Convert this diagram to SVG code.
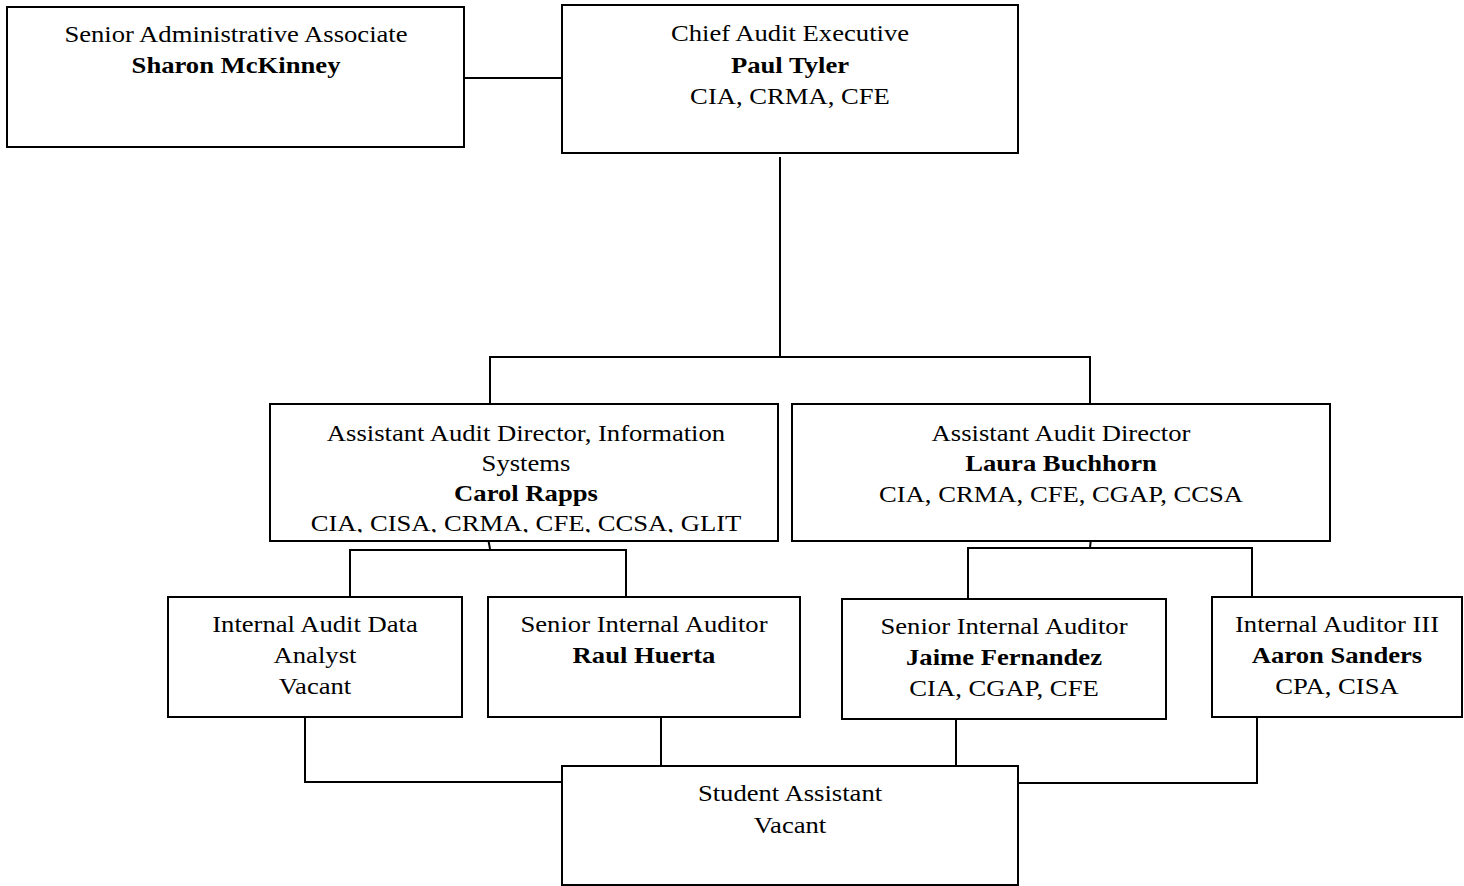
<svg xmlns="http://www.w3.org/2000/svg" width="1464" height="886" viewBox="0 0 1464 886">
<style>
.box{fill:#fff;stroke:#000;stroke-width:2}
.ln{fill:none;stroke:#000;stroke-width:2}
text{font-family:"Liberation Serif","Times New Roman",serif;font-size:24px;fill:#000;text-anchor:middle}
.b{font-weight:bold}
</style>
<defs>
<clipPath id="carolClip"><rect x="270" y="404" width="508" height="128.5"/></clipPath>
</defs>
<rect width="1464" height="886" fill="#fff"/>
<g id="connectors">
<polyline class="ln" points="464,78 562,78"/>
<polyline class="ln" points="780,157 780,357"/>
<polyline class="ln" points="490,404 490,357 1090,357 1090,404"/>
<polyline class="ln" points="488,538 490,549"/>
<polyline class="ln" points="350,597 350,550 626,550 626,597"/>
<polyline class="ln" points="1091,538 1090,548"/>
<polyline class="ln" points="968,599 968,548 1252,548 1252,597"/>
<polyline class="ln" points="305,717 305,782 562,782"/>
<polyline class="ln" points="661,717 661,766"/>
<polyline class="ln" points="956,719 956,766"/>
<polyline class="ln" points="1257,717 1257,783 1018,783"/>
</g>
<g id="senior-admin">
<rect class="box" x="7" y="7" width="457" height="140"/>
<g transform="translate(236 0) scale(1.11 1)">
<text x="0" y="42">Senior Administrative Associate</text>
<text x="0" y="73" class="b">Sharon McKinney</text>
</g>
</g>
<g id="chief">
<rect class="box" x="562" y="5" width="456" height="148"/>
<g transform="translate(790 0) scale(1.11 1)">
<text x="0" y="41.5">Chief Audit Executive</text>
<text x="0" y="73" class="b">Paul Tyler</text>
<text x="0" y="104.5">CIA, CRMA, CFE</text>
</g>
</g>
<g id="carol">
<rect class="box" x="270" y="404" width="508" height="137"/>
<g clip-path="url(#carolClip)">
<g transform="translate(526 0) scale(1.11 1)">
<text x="0" y="441">Assistant Audit Director, Information</text>
<text x="0" y="471">Systems</text>
<text x="0" y="501" class="b">Carol Rapps</text>
<text x="0" y="531">CIA, CISA, CRMA, CFE, CCSA, GLIT</text>
</g>
</g>
</g>
<g id="laura">
<rect class="box" x="792" y="404" width="538" height="137"/>
<g transform="translate(1061 0) scale(1.11 1)">
<text x="0" y="441">Assistant Audit Director</text>
<text x="0" y="471.5" class="b">Laura Buchhorn</text>
<text x="0" y="502">CIA, CRMA, CFE, CGAP, CCSA</text>
</g>
</g>
<g id="data-analyst">
<rect class="box" x="168" y="597" width="294" height="120"/>
<g transform="translate(315 0) scale(1.11 1)">
<text x="0" y="632.5">Internal Audit Data</text>
<text x="0" y="663">Analyst</text>
<text x="0" y="694">Vacant</text>
</g>
</g>
<g id="raul">
<rect class="box" x="488" y="597" width="312" height="120"/>
<g transform="translate(644 0) scale(1.11 1)">
<text x="0" y="632.5">Senior Internal Auditor</text>
<text x="0" y="663" class="b">Raul Huerta</text>
</g>
</g>
<g id="jaime">
<rect class="box" x="842" y="599" width="324" height="120"/>
<g transform="translate(1004 0) scale(1.11 1)">
<text x="0" y="634.5">Senior Internal Auditor</text>
<text x="0" y="665" class="b">Jaime Fernandez</text>
<text x="0" y="696">CIA, CGAP, CFE</text>
</g>
</g>
<g id="aaron">
<rect class="box" x="1212" y="597" width="250" height="120"/>
<g transform="translate(1337 0) scale(1.11 1)">
<text x="0" y="632.5">Internal Auditor III</text>
<text x="0" y="663" class="b">Aaron Sanders</text>
<text x="0" y="694">CPA, CISA</text>
</g>
</g>
<g id="student">
<rect class="box" x="562" y="766" width="456" height="119"/>
<g transform="translate(790 0) scale(1.11 1)">
<text x="0" y="801.5">Student Assistant</text>
<text x="0" y="833">Vacant</text>
</g>
</g>
</svg>
